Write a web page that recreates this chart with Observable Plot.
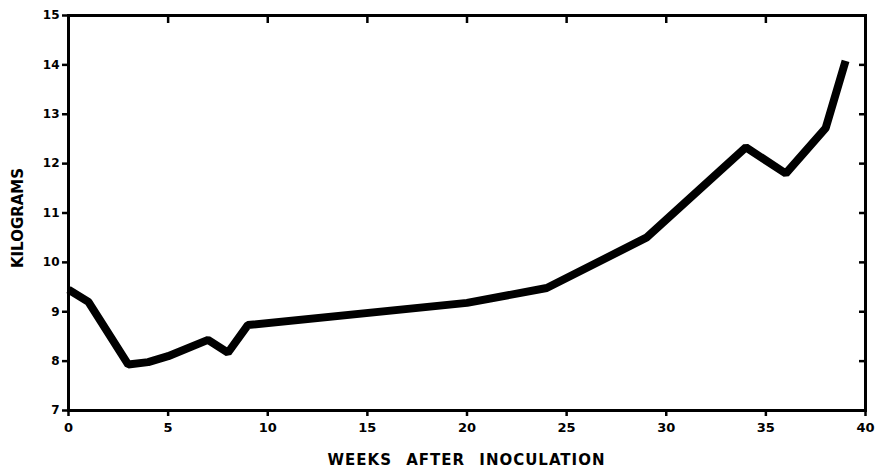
<!DOCTYPE html>
<html>
<head>
<meta charset="utf-8">
<script src="https://cdn.jsdelivr.net/npm/d3@7"></script>
<script src="https://cdn.jsdelivr.net/npm/@observablehq/plot@0.6"></script>
<style>
  html, body { margin: 0; padding: 0; background: #fff; }
  #chart svg { display: block; }
</style>
</head>
<body>
<div id="chart"></div>
<script>
const weeks = [0, 1, 3, 4, 5, 7, 8, 9, 20, 24, 29, 34, 36, 38, 39];
const kilograms = [9.45, 9.2, 7.93, 7.98, 8.1, 8.43, 8.17, 8.73, 9.18, 9.48, 10.5, 12.33, 11.8, 12.72, 14.08];
const xTicks = [0, 5, 10, 15, 20, 25, 30, 35, 40];
const yTicks = [7, 8, 9, 10, 11, 12, 13, 14, 15];
const xLabel = "WEEKS AFTER INOCULATION";
const yLabel = "KILOGRAMS";

const data = weeks.map((w, i) => ({week: w, kg: kilograms[i]}));
const font = "'DejaVu Sans', sans-serif";

const chart = Plot.plot({
  width: 876,
  height: 472,
  marginLeft: 68,
  marginRight: 11,
  marginTop: 15,
  marginBottom: 62,
  style: {fontFamily: font, fontWeight: "bold", fontSize: "12px", color: "#000", background: "#fff"},
  x: {domain: [0, 40]},
  y: {domain: [7, 15]},
  marks: [
    Plot.frame({stroke: "#000", strokeWidth: 3}),
    Plot.axisX(xTicks, {anchor: "bottom", tickSize: 6, tickPadding: 6, strokeWidth: 2.5, fontWeight: "bold", fontSize: 13, label: null}),
    Plot.axisX(xTicks, {anchor: "top", tickSize: -7, strokeWidth: 2.5, text: null, label: null}),
    Plot.axisY(yTicks, {anchor: "left", tickSize: 6, tickPadding: 3, strokeWidth: 2.5, fontWeight: "bold", fontSize: 12, label: null}),
    Plot.axisY(yTicks, {anchor: "right", tickSize: -7, strokeWidth: 2.5, text: null, label: null}),
    Plot.line(data, {x: "week", y: "kg", stroke: "#000", strokeWidth: 8, strokeLinejoin: "miter", strokeLinecap: "butt"})
  ]
});

const svg = d3.select(chart);
svg.append("text")
  .attr("x", (68 + 865) / 2)
  .attr("y", 465)
  .attr("text-anchor", "middle")
  .attr("font-family", font)
  .attr("font-weight", "bold")
  .attr("font-size", 15)
  .attr("letter-spacing", 1)
  .attr("word-spacing", 8)
  .attr("fill", "#000")
  .text(xLabel);
svg.append("text")
  .attr("transform", "translate(23,218) rotate(-90)")
  .attr("text-anchor", "middle")
  .attr("font-family", font)
  .attr("font-weight", "bold")
  .attr("font-size", 15)
  .attr("fill", "#000")
  .text(yLabel);

document.getElementById("chart").appendChild(chart);
</script>
</body>
</html>
